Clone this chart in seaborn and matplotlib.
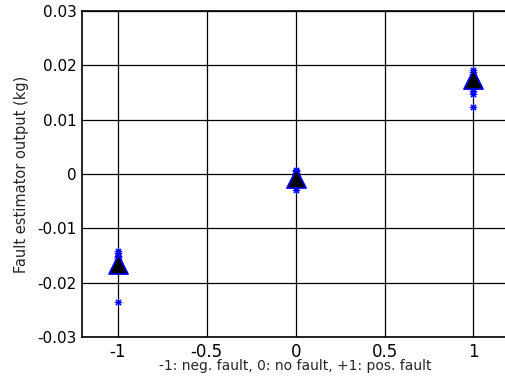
import numpy as np
import pandas as pd
import matplotlib
matplotlib.use("Agg")
import matplotlib.pyplot as plt
import seaborn as sns

# fault class for each run and the estimator output
fault_class = [-1] * 12 + [0] * 12 + [1] * 12
estimate = [
    -0.0142, -0.0146, -0.0150, -0.0153, -0.0156, -0.0160,
    -0.0163, -0.0166, -0.0170, -0.0173, -0.0176, -0.0235,
    0.0008, 0.0005, 0.0002, -0.0001, -0.0004, -0.0007,
    -0.0010, -0.0014, -0.0018, -0.0022, -0.0026, -0.0029,
    0.0192, 0.0188, 0.0184, 0.0180, 0.0176, 0.0172,
    0.0167, 0.0162, 0.0157, 0.0152, 0.0147, 0.0123,
]
mean_class = [-1, 0, 1]
mean_estimate = [-0.0166, -0.0007, 0.0174]

df = pd.DataFrame({"fault": fault_class, "estimate": estimate})
means = pd.DataFrame({"fault": mean_class, "estimate": mean_estimate})

sns.set_style("white")
plt.rcParams["font.family"] = ["DejaVu Sans"]

fig = plt.figure(figsize=(5.05, 3.87), dpi=100)
ax = fig.add_axes([0.163, 0.129, 0.845, 0.843])

# matlab style '*' marker: 8 thin arms
sns.scatterplot(data=df, x="fault", y="estimate", marker=(8, 2, 0), s=22,
                color="blue", edgecolor="blue", linewidth=0.8, ax=ax, zorder=3)
sns.scatterplot(data=means, x="fault", y="estimate", marker="^", s=190,
                color="black", edgecolor="blue", linewidth=1.2, ax=ax, zorder=6)

ax.set_xlim(-1.2, 1.2)
ax.set_ylim(-0.03, 0.03)
ax.set_xticks([-1, -0.5, 0, 0.5, 1])
ax.set_xticklabels(["-1", "-0.5", "0", "0.5", "1"])
ax.set_yticks([-0.03, -0.02, -0.01, 0, 0.01, 0.02, 0.03])
ax.set_yticklabels(["-0.03", "-0.02", "-0.01", "0", "0.01", "0.02", "0.03"])
ax.grid(True, color="black", linewidth=0.9)
ax.set_axisbelow(True)
for sp in ax.spines.values():
    sp.set_color("black")
    sp.set_linewidth(1.2)
ax.tick_params(direction="in", length=4, labelsize=11, colors="black", pad=4)
ax.tick_params(axis="x", labelsize=12)
ax.set_xlabel("-1: neg. fault, 0: no fault, +1: pos. fault", fontsize=10, labelpad=-1)
ax.set_ylabel("Fault estimator output (kg)", fontsize=10.5, labelpad=6)

fig.savefig("out.png", dpi=100)
